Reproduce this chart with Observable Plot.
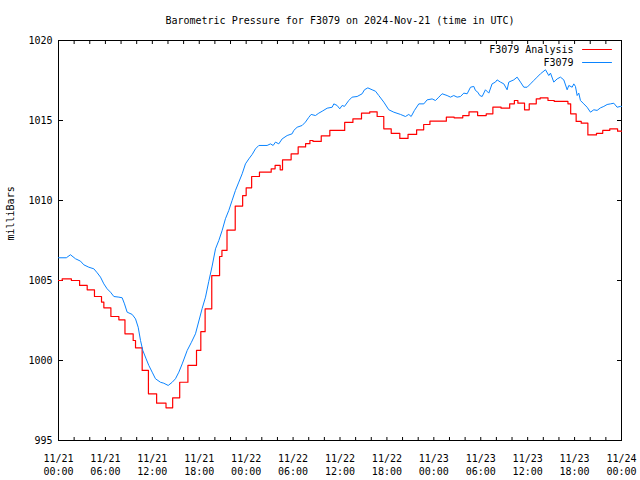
<!DOCTYPE html>
<html>
<head>
<meta charset="utf-8">
<script src="https://cdn.jsdelivr.net/npm/d3@7"></script>
<script src="https://cdn.jsdelivr.net/npm/@observablehq/plot@0.6"></script>
<style>
  html, body { margin: 0; padding: 0; background: #fff; }
</style>
</head>
<body>
<div id="chart"></div>
<script>
const titleText = "Barometric Pressure for F3079 on 2024-Nov-21 (time in UTC)";
const yLabel = "milliBars";
const seriesNames = ["F3079 Analysis", "F3079"];
const seriesColors = ["#ff0000", "#0a84ff"];

// hours since 2024-11-21 00:00 UTC
const xTickHours = [0, 6, 12, 18, 24, 30, 36, 42, 48, 54, 60, 66, 72];
const xTickLabels = ["11/21\n00:00", "11/21\n06:00", "11/21\n12:00", "11/21\n18:00",
  "11/22\n00:00", "11/22\n06:00", "11/22\n12:00", "11/22\n18:00",
  "11/23\n00:00", "11/23\n06:00", "11/23\n12:00", "11/23\n18:00", "11/24\n00:00"];
const xMinorHours = [0,2,4,6,8,10,12,14,16,18,20,22,24,26,28,30,32,34,36,38,40,42,44,46,48,50,52,54,56,58,60,62,64,66,68,70,72];
const yTicks = [995, 1000, 1005, 1010, 1015, 1020];

// F3079 observed (blue)
const blueHours = [0,1.0,1.53,2.17,2.81,3.24,3.88,4.52,4.95,5.37,5.8,6.22,6.65,7.08,7.72,8.14,8.44,8.78,9.42,9.85,
  10.19,10.49,10.78,11.21,11.55,11.98,12.4,13.04,13.47,14.03,14.54,14.96,15.39,15.82,16.46,17.0,17.52,18.37,18.8,19.22,
  19.65,20.08,20.5,20.93,21.35,21.78,22.2,22.63,23.06,23.49,23.91,24.34,24.77,25.19,25.62,26.68,27.11,27.45,27.75,28.17,
  28.6,29.24,29.88,30.09,30.52,31.16,31.58,32.01,32.31,32.86,33.29,33.72,34.36,35.0,35.21,35.63,35.97,36.27,36.57,37.12,
  37.55,38.19,38.83,39.13,39.56,40.11,40.54,40.96,41.6,42.24,42.88,43.73,44.37,44.8,45.1,45.52,46.08,46.72,47.14,47.78,
  48.21,48.64,49.06,49.7,50.13,50.55,50.98,51.41,51.83,52.26,52.69,53.11,53.32,53.62,53.88,54.18,54.6,55.03,55.45,55.88,
  56.09,56.52,56.95,57.37,57.59,58.23,58.65,59.08,59.51,59.93,60.36,60.78,61.21,61.64,62.28,62.7,62.92,63.34,63.77,64.19,
  64.62,65.05,65.26,65.69,65.9,66.11,66.33,66.54,66.75,67.18,67.6,68.03,68.46,68.88,69.31,69.74,70.16,70.59,71.02,71.44,
  71.87,72];
const blueValues = [1006.42,1006.42,1006.61,1006.36,1006.21,1005.98,1005.83,1005.73,1005.48,1005.21,1004.79,1004.48,1004.27,1004.0,1003.96,1003.92,1003.54,1003.02,1002.88,1002.6,
  1002.08,1001.25,1000.63,1000.1,999.69,999.27,998.86,998.64,998.58,998.44,998.64,998.86,999.27,999.79,1000.63,1001.14,1001.67,1003.25,1003.96,1004.95,
  1005.9,1006.98,1007.5,1008.13,1008.86,1009.38,1010.0,1010.63,1011.15,1011.67,1012.29,1012.6,1012.88,1013.23,1013.44,1013.44,1013.54,1013.44,1013.65,1013.54,
  1013.85,1014.06,1014.17,1014.38,1014.58,1014.69,1014.9,1015.2,1015.38,1015.31,1015.46,1015.58,1015.77,1015.83,1016.04,1015.94,1015.73,1015.94,1015.88,1016.25,
  1016.46,1016.5,1016.67,1016.92,1017.04,1016.92,1016.83,1016.56,1016.15,1015.67,1015.52,1015.38,1015.25,1015.38,1015.25,1015.63,1016.04,1016.04,1016.29,1016.35,
  1016.25,1016.46,1016.67,1016.56,1016.46,1016.56,1016.46,1016.5,1016.71,1016.67,1017.08,1017.13,1016.88,1016.77,1016.56,1016.5,1016.92,1016.71,1017.29,1017.4,
  1017.54,1017.4,1017.29,1016.92,1017.4,1017.54,1017.71,1017.4,1017.08,1017.08,1017.29,1017.5,1017.71,1017.92,1018.17,1017.81,1017.96,1017.4,1017.6,1017.71,
  1017.54,1016.92,1017.19,1017.08,1017.29,1017.13,1016.56,1016.71,1016.25,1016.04,1015.83,1015.52,1015.67,1015.63,1015.79,1015.88,1016.0,1016.04,1016.08,1015.83,
  1015.88,1015.88];

// F3079 Analysis (red, stepped)
const redHours = [0,0.47,1.65,2.7,3.67,4.6,5.5,5.8,6.7,7.72,8.5,9.55,9.85,10.7,11.5,12.55,13.75,14.6,15.5,16.55,
  17.65,18.2,18.75,19.6,20.6,20.9,21.55,22.6,23.55,24.0,24.7,25.7,27.2,27.7,28.35,28.65,29.75,30.65,31.6,32.15,
  32.55,33.6,34.7,36.6,37.65,38.75,39.8,40.75,41.6,42.55,43.65,44.7,45.8,46.7,47.5,49.6,50.6,51.7,52.5,53.6,
  54.7,55.55,56.6,57.7,58.3,58.75,59.6,60.2,61.1,61.6,62.6,63.4,65.15,65.5,66.2,66.85,67.7,68.8,69.6,70.5,
  71.5,72];
const redValues = [1005.0,1005.1,1005.0,1004.69,1004.42,1004.0,1003.65,1003.29,1002.75,1002.54,1001.67,1001.25,1000.79,999.38,997.92,997.33,997.04,997.67,998.64,999.69,
  1000.63,1001.8,1003.23,1005.31,1006.5,1006.88,1008.15,1009.65,1010.31,1010.79,1011.5,1011.77,1011.98,1012.19,1011.92,1012.54,1012.92,1013.35,1013.55,1013.75,
  1013.69,1014.04,1014.38,1014.88,1015.1,1015.46,1015.54,1015.25,1014.48,1014.2,1013.88,1014.13,1014.42,1014.75,1014.96,1015.21,1015.17,1015.31,1015.54,1015.31,
  1015.42,1015.83,1015.77,1016.04,1016.25,1016.08,1015.67,1016.04,1016.35,1016.42,1016.25,1016.19,1016.04,1015.42,1014.94,1014.83,1014.1,1014.2,1014.38,1014.48,
  1014.33,1014.33];

const blue = blueHours.map((h, i) => ({h, v: blueValues[i]}));
const red = redHours.map((h, i) => ({h, v: redValues[i]}));

const swatchLine = { draw(context, l) { context.moveTo(0, 0); context.lineTo(0, -l); } };

const chart = Plot.plot({
  width: 640,
  height: 480,
  marginLeft: 58,
  marginRight: 19,
  marginTop: 40,
  marginBottom: 40,
  style: { fontFamily: "'DejaVu Sans Mono', monospace", fontSize: "10px", background: "#fff", color: "#000", overflow: "visible" },
  x: { domain: [0, 72] },
  y: { domain: [995, 1020] },
  marks: [
    Plot.frame({ stroke: "#000" }),
    Plot.axisX({ anchor: "bottom", ticks: xTickHours, tickSize: 0, tickPadding: 12, lineHeight: 1.3,
      tickFormat: d => xTickLabels[xTickHours.indexOf(d)], label: null }),
    Plot.axisX({ anchor: "bottom", ticks: xMinorHours, tickSize: -3, fill: "none", label: null }),
    Plot.axisX({ anchor: "top", ticks: xMinorHours, tickSize: -3, fill: "none", label: null }),
    Plot.axisY({ anchor: "left", ticks: yTicks, tickSize: 0, tickPadding: 6, tickFormat: d => String(d), label: null }),
    Plot.axisY({ anchor: "left", ticks: yTicks, tickSize: -5, fill: "none", label: null }),
    Plot.axisY({ anchor: "right", ticks: yTicks, tickSize: -5, fill: "none", label: null }),
    Plot.line(red, { x: "h", y: "v", stroke: seriesColors[0], strokeWidth: 1.2, curve: "step-after" }),
    Plot.line(blue, { x: "h", y: "v", stroke: seriesColors[1], strokeWidth: 1 }),
    Plot.text([titleText], { frameAnchor: "top", text: d => d, dy: -20, lineAnchor: "middle" }),
    Plot.text([yLabel], { frameAnchor: "left", text: d => d, rotate: -90, dx: -48, lineAnchor: "middle" }),
    Plot.text([seriesNames[0]], { frameAnchor: "top-right", text: d => d, textAnchor: "end", lineAnchor: "middle", dx: -48, dy: 9 }),
    Plot.text([seriesNames[1]], { frameAnchor: "top-right", text: d => d, textAnchor: "end", lineAnchor: "middle", dx: -48, dy: 22 }),
    Plot.vector([seriesNames[0]], { frameAnchor: "top-right", dx: -39, dy: 9, length: 29, rotate: 90, anchor: "start", shape: swatchLine, stroke: seriesColors[0], strokeWidth: 1 }),
    Plot.vector([seriesNames[1]], { frameAnchor: "top-right", dx: -39, dy: 22, length: 29, rotate: 90, anchor: "start", shape: swatchLine, stroke: seriesColors[1], strokeWidth: 1 })
  ]
});
document.getElementById("chart").appendChild(chart);
</script>
</body>
</html>
